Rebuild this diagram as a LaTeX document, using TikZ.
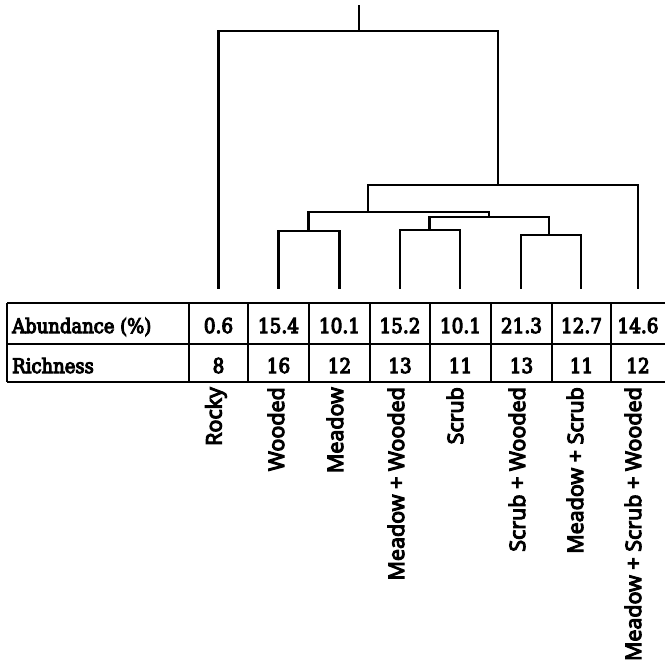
\documentclass[tikz,border=0pt]{standalone}
\usepackage{fontspec}
\setmainfont{DejaVu Serif Condensed}[FakeBold=5]
\newfontfamily\numfont{DejaVu Serif Condensed}[FakeBold=5]
\newfontfamily\labfont{Open Sans}[FakeBold=5]
\begin{document}
\begin{tikzpicture}[x=1pt,y=-1pt,
  tree/.style={line width=2.3pt, line cap=rect},
  grid/.style={line width=1.3pt},
  cell/.style={font=\numfont\fontsize{20.5}{24}\selectfont, inner sep=0pt, anchor=base},
  rowhead/.style={font=\fontsize{20}{24}\selectfont, inner sep=0pt, anchor=base west},
  lab/.style={font=\labfont\fontsize{21.5}{24}\selectfont, rotate=90, anchor=east, inner sep=0pt}]
\useasboundingbox (0,0) rectangle (665,665);
% leaves
\coordinate (L1) at (218.5,288);
\coordinate (L2) at (278.5,288);
\coordinate (L3) at (339.5,288);
\coordinate (L4) at (400,288);
\coordinate (L5) at (460,288);
\coordinate (L6) at (521,288);
\coordinate (L7) at (581,288);
\coordinate (L8) at (638,288);
% merges
\coordinate (a) at (308.5,231);
\coordinate (b) at (429.5,230);
\coordinate (c) at (549,235);
\coordinate (d) at (489,217);
\coordinate (e) at (368,212);
\coordinate (f) at (498,185);
\coordinate (r) at (359,31);
\coordinate (top) at (359,6);
\draw[tree] (L2) |- (a) -| (L3);
\draw[tree] (L4) |- (b) -| (L5);
\draw[tree] (L6) |- (c) -| (L7);
\draw[tree] (b) |- (d) -| (c);
\draw[tree] (a) |- (e) -| (d);
\draw[tree] (e) |- (f) -| (L8);
\draw[tree] (L1) |- (r) -| (f);
\draw[tree] (r) -- (top);
% table
\draw[grid] (7,303) -- (665,303);
\draw[grid] (7,344) -- (665,344);
\draw[grid] (7,382) -- (665,382);
\foreach \xx in {7,189,248,309,370,430,491,552,611}
  \draw[grid] (\xx,303) -- (\xx,382);
\node[rowhead] (ab) at (12,333) {Abundance (\%)};
\node[rowhead] (ri) at (12,373) {Richness};
\foreach \xx/\va/\vb [count=\i] in {218.5/0.6/8, 278.5/15.4/16, 339.5/10.1/12, 400/15.2/13, 460.5/10.1/11, 521.5/21.3/13, 581.5/12.7/11, 638/14.6/12}{
  \node[cell] (va\i) at (\xx,333) {\va};
  \node[cell] (vb\i) at (\xx,373) {\vb};
}
% labels
\node[lab] (n1) at (216,387) {Rocky};
\node[lab] (n2) at (276,387) {Wooded};
\node[lab] (n3) at (335,387) {Meadow};
\node[lab] (n4) at (396,387) {Meadow + Wooded};
\node[lab] (n5) at (455,387) {Scrub};
\node[lab] (n6) at (517,387) {Scrub + Wooded};
\node[lab] (n7) at (575,387) {Meadow + Scrub};
\node[lab] (n8) at (633,387) {Meadow + Scrub + Wooded};
\end{tikzpicture}
\end{document}
